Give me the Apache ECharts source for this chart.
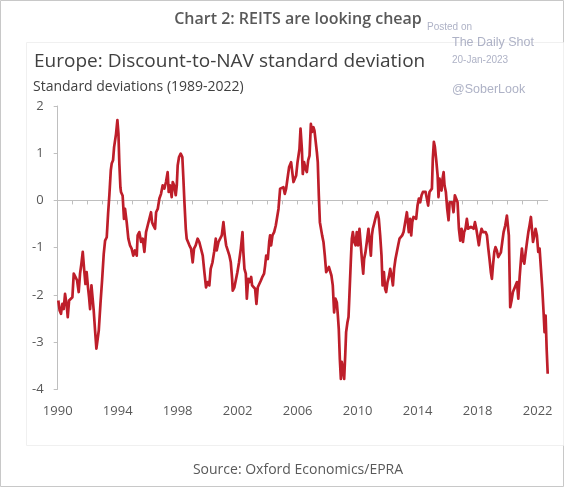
<!DOCTYPE html>
<html>
<head>
<meta charset="utf-8">
<script src="https://cdn.jsdelivr.net/npm/echarts@6/dist/echarts.min.js"></script>
<style>
html,body{margin:0;padding:0;background:#fff;}
#c{width:564px;height:487px;}
</style>
</head>
<body>
<div id="c"></div>
<script>
// Time positions (decimal years)
const years = [
1990.04,1990.13,1990.22,1990.31,1990.40,1990.49,1990.60,1990.67,1990.76,1990.87,1990.98,
1991.07,1991.18,1991.29,1991.40,1991.49,1991.58,1991.67,1991.76,1991.85,1991.93,
1992.02,1992.09,1992.16,1992.25,1992.31,1992.40,1992.49,1992.58,1992.65,1992.74,1992.85,1992.96,
1993.07,1993.16,1993.27,1993.36,1993.45,1993.54,1993.60,1993.69,1993.76,1993.82,1993.89,1993.98,
1994.05,1994.11,1994.18,1994.22,1994.33,1994.42,1994.49,1994.60,1994.71,1994.82,1994.93,
1995.04,1995.15,1995.27,1995.33,1995.44,1995.56,1995.67,1995.78,1995.89,
1996.00,1996.11,1996.22,1996.29,1996.38,1996.49,1996.56,1996.67,1996.78,1996.89,
1997.00,1997.11,1997.22,1997.33,1997.40,1997.49,1997.60,1997.67,1997.76,1997.87,1997.94,
1998.00,1998.09,1998.20,1998.31,1998.38,1998.45,1998.54,1998.60,1998.69,1998.78,1998.89,
1999.00,1999.09,1999.20,1999.33,1999.44,1999.56,1999.67,1999.78,1999.89,
2000.00,2000.11,2000.20,2000.32,2000.43,2000.54,2000.60,2000.72,2000.83,2000.94,
2001.05,2001.14,2001.23,2001.34,2001.45,2001.54,2001.63,2001.67,2001.78,2001.89,2001.98,
2002.09,2002.21,2002.32,2002.38,2002.45,2002.54,2002.61,2002.70,2002.78,2002.90,2002.96,
2003.05,2003.16,2003.25,2003.34,2003.43,2003.54,2003.63,2003.76,2003.83,2003.90,
2004.01,2004.10,2004.16,2004.23,2004.32,2004.43,2004.54,2004.65,2004.72,2004.83,2004.94,
2005.05,2005.14,2005.23,2005.32,2005.43,2005.50,2005.56,2005.68,2005.72,2005.81,2005.90,2005.99,
2006.12,2006.19,2006.28,2006.34,2006.43,2006.52,2006.61,2006.70,2006.79,2006.88,2006.96,
2007.05,2007.12,2007.19,2007.28,2007.34,2007.41,2007.48,2007.54,2007.63,2007.72,2007.81,2007.90,2007.99,
2008.08,2008.17,2008.25,2008.34,2008.43,2008.52,2008.61,2008.68,2008.74,2008.81,2008.88,2008.94,
2009.01,2009.10,2009.17,2009.23,2009.32,2009.39,2009.45,2009.54,2009.61,2009.68,2009.77,2009.86,2009.94,
2010.03,2010.12,2010.21,2010.30,2010.37,2010.43,2010.52,2010.61,2010.72,2010.88,2010.95,
2011.01,2011.10,2011.23,2011.32,2011.41,2011.50,2011.59,2011.66,2011.75,2011.83,2011.90,2011.99,
2012.08,2012.17,2012.26,2012.35,2012.43,2012.52,2012.61,2012.70,2012.79,2012.88,2012.97,
2013.06,2013.17,2013.28,2013.35,2013.41,2013.50,2013.57,2013.64,2013.72,2013.81,2013.90,2013.99,
2014.08,2014.17,2014.26,2014.35,2014.44,2014.53,2014.61,2014.70,2014.79,2014.88,2014.95,
2015.01,2015.08,2015.15,2015.24,2015.33,2015.39,2015.46,2015.53,2015.59,2015.66,2015.73,2015.79,2015.88,2015.97,
2016.06,2016.13,2016.22,2016.30,2016.39,2016.48,2016.57,2016.66,2016.75,2016.84,2016.93,
2017.02,2017.10,2017.19,2017.28,2017.37,2017.46,2017.55,2017.64,2017.73,2017.82,2017.91,2017.99,
2018.08,2018.17,2018.26,2018.35,2018.44,2018.53,2018.62,2018.71,2018.79,2018.88,2018.95,
2019.02,2019.11,2019.19,2019.28,2019.37,2019.46,2019.55,2019.64,2019.73,2019.84,2019.95,
2020.02,2020.08,2020.13,2020.17,2020.26,2020.35,2020.44,2020.53,2020.62,2020.71,2020.80,2020.89,2020.95,
2021.02,2021.11,2021.20,2021.29,2021.38,2021.46,2021.55,2021.62,2021.69,2021.78,2021.86,2021.95,
2022.04,2022.13,2022.22,2022.31,2022.40,2022.46,2022.53,2022.60,2022.67
];
// Discount-to-NAV, standard deviations
const values = [
-2.12,-2.33,-2.40,-2.19,-2.30,-1.98,-2.22,-2.47,-2.12,-2.08,-2.05,
-1.55,-1.62,-1.69,-1.94,-1.55,-1.34,-1.09,-1.45,-1.77,-1.52,
-1.84,-2.05,-2.30,-1.80,-1.84,-2.33,-2.75,-3.14,-3.18,-2.75,-2.19,-1.69,
-1.13,-0.85,-0.78,-0.28,0.14,0.64,0.78,0.85,1.13,1.09,1.41,1.70,
1.41,0.78,0.28,0.18,0.10,-0.39,-0.18,-0.46,-0.81,-0.95,-1.02,
-1.17,-1.06,-1.17,-0.74,-0.67,-0.88,-0.81,-1.09,-0.67,
-0.53,-0.53,-0.25,-0.46,-0.53,-0.60,-0.25,-0.18,0.04,0.14,
0.32,0.25,0.39,0.60,0.18,0.32,0.07,0.39,0.32,0.11,0.32,
0.74,0.92,0.99,0.92,0.46,-0.04,-0.60,-0.81,-0.78,-0.95,-1.02,
-1.31,-1.02,-0.95,-0.81,-0.88,-0.92,-1.17,-1.52,-1.84,
-1.73,-1.80,-1.45,-1.31,-1.09,-0.81,-1.06,-0.88,-0.88,-0.74,
-0.46,-0.74,-0.95,-0.99,-1.17,-1.31,-1.66,-1.91,-1.84,-1.86,-1.52,
-1.31,-1.02,-0.67,-1.10,-1.45,-1.55,-2.08,-1.66,-1.73,-1.62,-1.80,
-1.77,-1.87,-2.19,-1.84,-1.80,-1.70,-1.63,-1.55,-1.38,-1.17,
-1.24,-0.88,-0.74,-0.95,-0.74,-0.67,-0.53,-0.49,-0.18,0.25,0.28,
0.28,0.14,0.25,0.46,0.71,0.74,0.81,0.81,0.39,0.39,0.53,0.81,
1.09,1.52,1.09,0.56,0.81,0.67,0.60,0.85,0.95,1.62,1.45,
1.55,1.48,1.45,1.02,0.81,0.11,-0.46,-0.49,-0.74,-0.88,-1.17,-1.52,-1.55,
-1.41,-1.45,-1.59,-1.80,-2.37,-2.08,-2.16,-2.44,-2.72,-3.35,-3.78,-3.42,
-3.56,-3.78,-3.28,-2.79,-2.58,-2.47,-2.01,-1.31,-0.81,-0.67,-0.88,-0.95,-0.67,
-0.95,-0.60,-0.56,-1.31,-1.55,-1.24,-1.10,-0.88,-0.60,-1.17,-0.74,
-0.60,-0.49,-0.32,-0.25,-0.39,-0.74,-1.17,-1.80,-1.52,-1.87,-1.94,-1.73,
-1.62,-1.45,-1.59,-1.80,-1.45,-1.24,-1.20,-0.95,-0.81,-0.81,-0.74,
-0.67,-0.46,-0.25,-0.21,-0.67,-0.39,-0.74,-0.46,-0.35,-0.39,-0.39,-0.11,
0.04,-0.04,0.11,0.18,0.14,0.18,0.14,-0.11,0.18,0.14,0.25,
0.88,1.24,1.13,0.85,0.53,0.07,0.46,0.32,0.21,0.46,0.60,0.32,0.18,-0.18,
-0.42,-0.04,-0.04,-0.04,-0.25,0.11,0.14,-0.04,-0.60,-0.85,-0.60,
-0.88,-0.67,-0.60,-0.39,-0.60,-0.60,-0.56,-0.60,-0.60,-0.46,-0.60,-0.64,
-0.95,-0.74,-0.60,-0.67,-0.64,-0.67,-0.74,-1.02,-1.24,-1.52,-1.66,
-1.38,-1.09,-0.99,-1.06,-1.20,-1.24,-1.10,-0.88,-0.67,-0.53,-0.32,
-0.28,-0.74,-1.59,-2.26,-2.12,-1.94,-1.87,-1.84,-1.73,-2.08,-1.62,-1.24,-1.02,
-1.24,-1.34,-1.10,-0.88,-0.67,-0.53,-0.35,-0.32,-0.88,-0.74,-0.60,-0.74,
-1.09,-1.02,-1.45,-1.87,-2.40,-2.79,-2.44,-3.14,-3.67
];
const xLabelYears = [1990,1994,1998,2002,2006,2010,2014,2018,2022];
const xTickYears = [];
for (let y = 1990; y <= 2022; y++) xTickYears.push(y);

const titleText = 'Chart 2: REITS are looking cheap';
const subtitleText = 'Europe: Discount-to-NAV standard deviation';
const unitText = 'Standard deviations (1989-2022)';
const sourceText = 'Source: Oxford Economics/EPRA';

const seriesData = years.map((y, i) => [y, values[i]]);

const chart = echarts.init(document.getElementById('c'), null, {renderer: 'canvas'});
const FONT = '"Open Sans", "Noto Sans", sans-serif';
const WMFONT = 'Arial, "Liberation Sans", sans-serif';
const wm = '#aeb2c6';
chart.setOption({
  animation: false,
  backgroundColor: '#ffffff',
  grid: {left: 57.7, right: 16.3, top: 106, bottom: 97.7, containLabel: false},
  xAxis: [
    {
      type: 'value', min: 1990, max: 2022.67, position: 'bottom',
      axisLine: {show: false, onZero: false},
      axisTick: {show: false},
      splitLine: {show: false},
      axisLabel: {
        customValues: xLabelYears,
        color: '#595959', fontSize: 13, fontFamily: FONT, margin: 15,
        formatter: v => String(Math.round(v))
      }
    },
    {
      type: 'value', min: 1990, max: 2022.67, position: 'bottom',
      axisLine: {show: true, onZero: true, lineStyle: {color: '#bfbfbf', width: 1}},
      axisTick: {show: true, customValues: xTickYears, length: 4, lineStyle: {color: '#bfbfbf'}},
      axisLabel: {show: false},
      splitLine: {show: false}
    }
  ],
  yAxis: {
    type: 'value', min: -4, max: 2, interval: 1,
    axisLine: {show: true, lineStyle: {color: '#bfbfbf', width: 1}},
    axisTick: {show: true, length: 4, lineStyle: {color: '#bfbfbf'}},
    splitLine: {show: false},
    axisLabel: {color: '#595959', fontSize: 13, fontFamily: FONT, margin: 14}
  },
  series: [{
    type: 'line', xAxisIndex: 0, data: seriesData,
    showSymbol: false, symbol: 'none',
    lineStyle: {color: '#BE1E2A', width: 2.7, join: 'round'},
    z: 3
  }],
  graphic: [
    {type: 'rect', shape: {x: 0.5, y: 0.5, width: 563, height: 486}, style: {fill: 'none', stroke: '#c8c8c8', lineWidth: 1}, silent: true},
    {type: 'rect', shape: {x: 26.5, y: 42.5, width: 537, height: 403}, style: {fill: 'none', stroke: '#f0f0f0', lineWidth: 1}, silent: true},
    {type: 'text', x: 298, y: 19, style: {text: titleText, fill: '#595959', font: '600 16px ' + FONT, textAlign: 'center', textVerticalAlign: 'middle'}},
    {type: 'text', x: 34, y: 62, style: {text: subtitleText, fill: '#404040', font: '19px ' + FONT, textAlign: 'left', textVerticalAlign: 'middle'}},
    {type: 'text', x: 33, y: 87, style: {text: unitText, fill: '#404040', font: '14px ' + FONT, textAlign: 'left', textVerticalAlign: 'middle'}},
    {type: 'text', x: 298, y: 470, style: {text: sourceText, fill: '#595959', font: '14px ' + FONT, textAlign: 'center', textVerticalAlign: 'middle'}},
    {type: 'text', x: 427, y: 27, style: {text: 'Posted on', fill: wm, font: '10px ' + WMFONT, textAlign: 'left', textVerticalAlign: 'middle'}},
    {type: 'text', x: 452, y: 43, style: {text: 'The Daily Shot', fill: wm, font: '12.5px ' + WMFONT, textAlign: 'left', textVerticalAlign: 'middle'}},
    {type: 'text', x: 452, y: 60, style: {text: '20-Jan-2023', fill: wm, font: '10px ' + WMFONT, textAlign: 'left', textVerticalAlign: 'middle'}},
    {type: 'text', x: 452, y: 90, style: {text: '@SoberLook', fill: wm, font: '12.5px ' + WMFONT, textAlign: 'left', textVerticalAlign: 'middle'}}
  ]
});
</script>
</body>
</html>
